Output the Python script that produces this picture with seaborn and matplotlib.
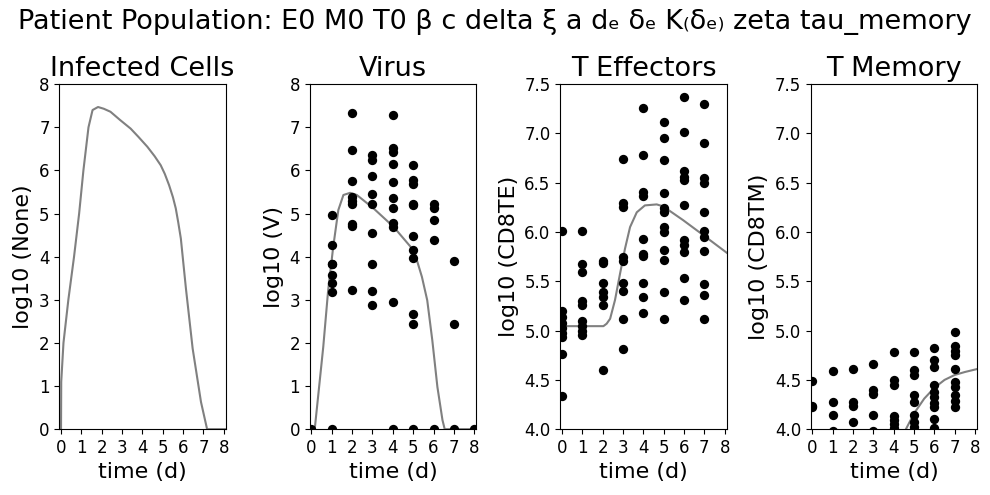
import pandas as pd
import seaborn as sns
import matplotlib.pyplot as plt

# observed data: one list of log10 values per day
obs_days = [0, 1, 2, 3, 4, 5, 6, 7, 8]

virus_vals = [
    [0.0],
    [4.96, 4.27, 3.83, 3.83, 3.57, 3.40, 3.17, 0.0],
    [7.32, 6.47, 5.75, 5.39, 5.30, 5.23, 4.75, 4.70, 3.22],
    [6.35, 6.24, 5.87, 5.45, 5.23, 4.54, 3.84, 3.20, 2.89],
    [7.28, 6.51, 6.43, 6.14, 5.72, 5.37, 5.12, 4.77, 4.69, 2.94, 0.0],
    [6.12, 5.77, 5.68, 5.23, 5.19, 4.47, 4.15, 3.96, 2.68, 2.45, 0.0],
    [5.23, 5.12, 4.85, 4.38, 0.0],
    [3.89, 2.45, 0.0],
    [0.0],
]

teff_vals = [
    [6.01, 5.20, 5.14, 5.08, 5.03, 4.98, 4.94, 4.76, 4.34],
    [6.01, 5.68, 5.59, 5.30, 5.26, 5.10, 5.05, 5.00, 4.96],
    [5.71, 5.69, 5.48, 5.39, 5.34, 5.26, 4.60],
    [6.74, 6.29, 6.25, 5.75, 5.71, 5.48, 5.40, 5.12, 4.81],
    [7.26, 6.78, 6.41, 6.37, 5.93, 5.78, 5.76, 5.48, 5.34, 5.18],
    [7.12, 6.95, 6.73, 6.40, 6.24, 6.20, 6.05, 6.00, 5.82, 5.72, 5.39, 5.12],
    [7.37, 7.01, 6.62, 6.56, 6.53, 6.27, 5.92, 5.87, 5.80, 5.53, 5.31],
    [7.30, 6.90, 6.55, 6.50, 6.20, 6.01, 5.95, 5.81, 5.47, 5.36, 5.12],
    [],
]

tmem_vals = [
    [4.49, 4.24, 4.22],
    [4.59, 4.28, 4.14, 3.98],
    [4.61, 4.28, 4.23, 4.07],
    [4.66, 4.40, 4.36, 4.14, 3.98],
    [4.78, 4.50, 4.45, 4.13, 4.09, 4.05, 4.01],
    [4.78, 4.60, 4.55, 4.35, 4.28, 4.14, 4.07, 4.02],
    [4.82, 4.70, 4.63, 4.45, 4.38, 4.33, 4.27, 4.22, 4.10, 4.01],
    [4.99, 4.84, 4.79, 4.75, 4.61, 4.48, 4.43, 4.35, 4.29, 4.22],
    [],
]

# model curves
inf_t = [0, 0.01, 0.12, 0.36, 0.64, 0.89, 1.1, 1.35, 1.55, 1.82, 2.1, 2.43, 2.9,
         3.42, 3.8, 4.24, 4.6, 4.9, 5.1, 5.31, 5.5, 5.64, 5.76, 5.89, 6.14, 6.47,
         6.88, 7.18, 8.1]
inf_y = [0, 1.1, 2.0, 3.0, 4.0, 5.0, 6.0, 7.0, 7.4, 7.47, 7.43, 7.36, 7.17,
         6.97, 6.78, 6.55, 6.33, 6.12, 5.92, 5.66, 5.38, 5.12, 4.8, 4.42, 3.26, 1.87,
         0.63, 0, 0]

vir_t = [0, 0.16, 0.58, 0.82, 1.07, 1.32, 1.57, 1.9, 2.23, 3.05, 4.04, 4.87, 5.11,
         5.43, 5.69, 5.94, 6.19, 6.44, 6.55, 8.1]
vir_y = [0, 0, 1.91, 3.22, 4.23, 5.08, 5.43, 5.48, 5.43, 5.12, 4.69, 4.23, 4.03,
         3.53, 2.99, 2.06, 0.98, 0.21, 0, 0]

teff_t = [0, 2.04, 2.2, 2.37, 2.61, 2.86, 3.1, 3.35, 3.68, 4.08, 4.66, 4.98, 5.96,
          6.94, 8.1]
teff_y = [5.045, 5.045, 5.07, 5.12, 5.31, 5.58, 5.83, 6.05, 6.2, 6.27, 6.28, 6.26,
          6.12, 5.97, 5.79]

tmem_t = [4.4, 4.6, 5.0, 5.5, 6.0, 6.5, 7.0, 7.5, 8.1]
tmem_y = [3.92, 4.0, 4.16, 4.31, 4.42, 4.5, 4.55, 4.58, 4.61]


def to_frame(vals):
    rows = [(d, v) for d, vs in zip(obs_days, vals) for v in vs]
    return pd.DataFrame(rows, columns=['time', 'value'])


fig, axes = plt.subplots(1, 4, figsize=(9.9, 4.95))

panels = [
    ('Infected Cells', 'log10 (None)', inf_t, inf_y, None, (0, 8)),
    ('Virus', 'log10 (V)', vir_t, vir_y, virus_vals, (0, 8)),
    ('T Effectors', 'log10 (CD8TE)', teff_t, teff_y, teff_vals, (4.0, 7.5)),
    ('T Memory', 'log10 (CD8TM)', tmem_t, tmem_y, tmem_vals, (4.0, 7.5)),
]

for ax, (title, ylab, ct, cy, vals, ylim) in zip(axes, panels):
    curve = pd.DataFrame({'time': ct, 'value': cy})
    sns.lineplot(data=curve, x='time', y='value', color='grey', linewidth=1.5, ax=ax)
    if vals is not None:
        sns.scatterplot(data=to_frame(vals), x='time', y='value', color='black',
                        s=45, linewidth=0, ax=ax, zorder=3)
    ax.set_xlim(-0.08, 8.1)
    ax.set_ylim(*ylim)
    ax.set_xticks(range(9))
    ax.set_title(title, fontsize=19.5)
    ax.set_xlabel('time (d)', fontsize=16)
    ax.set_ylabel(ylab, fontsize=16)
    ax.tick_params(labelsize=12)

fig.suptitle('Patient Population: E0 M0 T0 β c delta ξ a dₑ δₑ K₍δₑ₎ zeta tau_memory',
             fontsize=19.5, y=0.982)
plt.subplots_adjust(left=0.06, right=0.987, top=0.83, bottom=0.133, wspace=0.505)
plt.savefig('out.png', dpi=100)
